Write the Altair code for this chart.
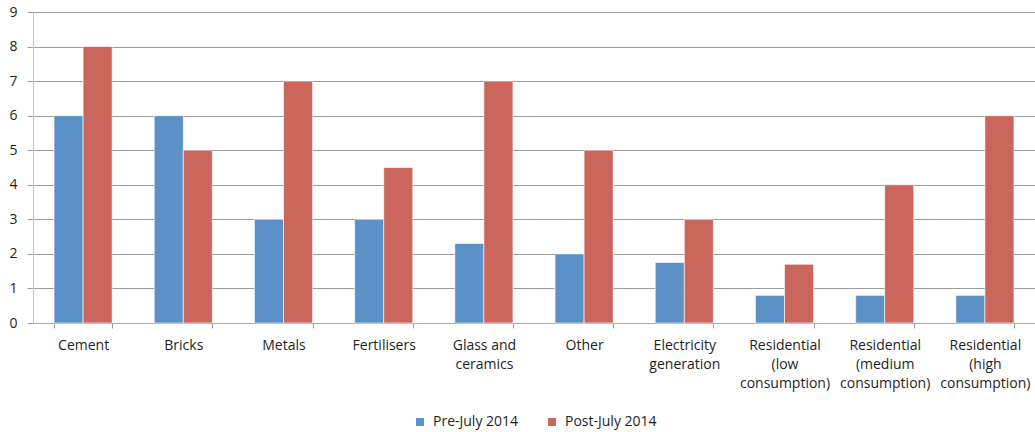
import altair as alt
import pandas as pd

# Categories (use "\n" for line breaks in the axis labels)
categories = [
    "Cement",
    "Bricks",
    "Metals",
    "Fertilisers",
    "Glass and\nceramics",
    "Other",
    "Electricity\ngeneration",
    "Residential\n(low\nconsumption)",
    "Residential\n(medium\nconsumption)",
    "Residential\n(high\nconsumption)",
]
pre_july_2014 = [6, 6, 3, 3, 2.3, 2, 1.75, 0.8, 0.8, 0.8]
post_july_2014 = [8, 5, 7, 4.5, 7, 5, 3, 1.7, 4, 6]
series_names = ["Pre-July 2014", "Post-July 2014"]
series_colors = ["#5B91C7", "#CB665D"]

rows = []
for cat, a, b in zip(categories, pre_july_2014, post_july_2014):
    rows.append({"category": cat, "series": series_names[0], "value": a})
    rows.append({"category": cat, "series": series_names[1], "value": b})
df = pd.DataFrame(rows)

FONT = "Open Sans"
TEXT = "#1e1e1e"

bars = alt.Chart(df).mark_bar(stroke="white", strokeWidth=0.6).encode(
    x=alt.X(
        "category:N",
        sort=categories,
        scale=alt.Scale(paddingInner=0.42, paddingOuter=0.21),
        axis=alt.Axis(
            title=None,
            labelAngle=0,
            labelExpr="split(datum.label, '\\n')",
            labelFont=FONT,
            labelFontSize=14,
            labelColor=TEXT,
            labelLineHeight=19,
            labelPadding=10,
            labelBaseline="top",
            tickBand="extent",
            tickSize=5,
            tickColor="#9a9a9a",
            domainColor="#a8a8a8",
            grid=False,
        ),
    ),
    xOffset=alt.XOffset("series:N", sort=series_names, scale=alt.Scale(paddingInner=0, paddingOuter=0)),
    y=alt.Y(
        "value:Q",
        scale=alt.Scale(domain=[0, 9], nice=False),
        axis=alt.Axis(
            title=None,
            values=list(range(10)),
            labelFont=FONT,
            labelFontSize=14,
            labelColor=TEXT,
            labelPadding=10,
            tickSize=6,
            tickColor="#9a9a9a",
            domainColor="#c8c8c8",
            gridColor="#9c9c9c",
            gridWidth=1,
        ),
    ),
    color=alt.Color(
        "series:N",
        sort=series_names,
        scale=alt.Scale(domain=series_names, range=series_colors),
        legend=alt.Legend(
            title=None,
            orient="none",
            legendX=380,
            legendY=403,
            direction="horizontal",
            symbolType="square",
            symbolSize=64,
            symbolStrokeWidth=0,
            labelOffset=6,
            labelFont=FONT,
            labelFontSize=14,
            labelColor=TEXT,
            columnPadding=26,
        ),
    ),
)

chart = bars.properties(
    width=1002,
    height=311,
    autosize=alt.AutoSizeParams(type="none"),
    padding={"left": 33, "top": 12, "right": 0, "bottom": 109},
).configure_view(stroke=None).configure(background="white")

chart.save("out.html", embed_options={"renderer": "svg", "actions": False})
